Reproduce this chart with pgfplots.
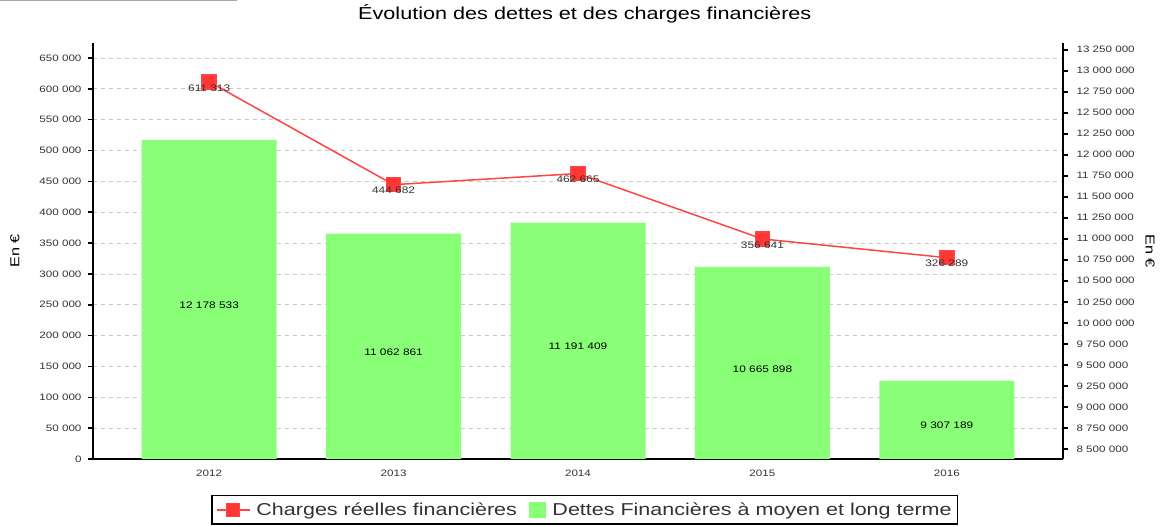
\documentclass[border=0pt]{standalone}
\usepackage{pgfplots}
\pgfplotsset{compat=1.18}
\usepackage{fontspec}
\setmainfont{Liberation Sans}[FakeStretch=1.25]
\definecolor{barg}{HTML}{88FF77}
\definecolor{linr}{HTML}{FF4444}
\definecolor{mrkr}{HTML}{FF3636}
\definecolor{gridc}{HTML}{C8C8C8}
\definecolor{txt}{HTML}{333333}
\pgfplotsset{
  base/.style={
    at={(93pt,68pt)}, anchor=south west,
    width=970pt, height=416pt, scale only axis,
    xmin=-0.63, xmax=4.63,
    /pgf/number format/assume math mode=true,
    scaled y ticks=false,
    tick label style={font=\fontsize{9.3}{11}\selectfont, text=txt},
    tick align=outside, major tick length=5pt,
  },
  numfmt/.style={/pgf/number format/fixed, /pgf/number format/precision=0, /pgf/number format/1000 sep={\ }},
  linelegend/.style={legend image code/.code={\draw[mark repeat=2, mark phase=2, ##1, mark size=6.5pt]
     plot coordinates {(0pt,0pt) (16.5pt,0pt) (33pt,0pt)};}},
  barlegend/.style={legend image code/.code={\fill[barg] (0pt,-7pt) rectangle (16pt,7pt);}},
}
\begin{document}
\begin{tikzpicture}[x=1pt,y=1pt]
\useasboundingbox (0,0) rectangle (1162,527);
\draw[gray!70, line width=1.5pt] (0,527) -- (237,527);

% axis 1: grid, left axis, x labels, title
\begin{axis}[base,
  ymin=0, ymax=674300,
  axis x line*=bottom, axis y line*=left,
  axis line style={-, line width=1.5pt, black},
  ytick={0,50000,...,650000},
  yticklabel style={numfmt, /tikz/xshift=-3pt},
  ymajorgrids, grid style={gridc, dash pattern=on 4pt off 4pt, line width=0.8pt},
  xtick={0,...,4}, xticklabels={2012,2013,2014,2015,2016},
  xticklabel style={yshift=-2pt},
  x tick style={draw=none},
  y tick style={black, line width=1.5pt},
  title={Évolution des dettes et des charges financières},
  title style={at={(0.507,1.055)}, anchor=center, font=\fontsize{17.3}{20}\selectfont, text=black},
  ylabel={En €},
  every axis y label/.style={at={(-0.0804,0.5)}, rotate=90, anchor=center, font=\fontsize{13}{15}\selectfont},
]
\addplot[draw=none] coordinates {(0,0)};
\end{axis}

% axis 2: bars, right axis
\begin{axis}[base,
  ymin=8378600, ymax=13331000,
  hide x axis,
  axis y line*=right,
  axis line style={-, line width=1.5pt, black},
  ytick={8500000,8750000,...,13250000},
  yticklabel style={numfmt, /tikz/xshift=5pt},
  y tick style={black, line width=1.5pt},
  ylabel={En €},
  every axis y label/.style={at={(1.0897,0.5)}, rotate=-90, anchor=center, font=\fontsize{13}{15}\selectfont},
]
\addplot[ybar, bar width=135pt, fill=barg, draw=none] coordinates
  {(0,12178533) (1,11062861) (2,11191409) (3,10665898) (4,9307189)};
\addplot[draw=none, nodes near coords, point meta=explicit symbolic,
  every node near coord/.style={anchor=center, font=\fontsize{9.5}{11}\selectfont, text=black}]
  coordinates {(0,10212000)[12 178 533] (1,9652000)[11 062 861] (2,9724000)[11 191 409]
               (3,9450000)[10 665 898] (4,8783000)[9 307 189]};
\end{axis}

% axis 3: line, legend
\begin{axis}[base,
  ymin=0, ymax=674300,
  hide x axis, hide y axis,
  legend style={at={(0.507,-0.0865)}, anchor=north, draw=black, line width=1.5pt,
    font=\fontsize{17.2}{20}\selectfont, text=txt,
    /tikz/every odd column/.append style={column sep=4pt},
    /tikz/every even column/.append style={column sep=10pt},
    inner xsep=4pt, inner ysep=5pt},
  legend columns=2,
]
\addplot[linr, line width=1.5pt, mark=square*, mark size=7pt,
  mark options={fill=mrkr, draw=none},
  nodes near coords, point meta=explicit symbolic,
  every node near coord/.style={anchor=center, yshift=-6pt, font=\fontsize{9.5}{11}\selectfont, text=txt},
  linelegend]
  coordinates {(0,611313)[611 313] (1,444682)[444 682] (2,462665)[462 665]
               (3,356641)[356 641] (4,326289)[326 289]};
\addlegendentry{Charges réelles financières}
\addlegendimage{barlegend}
\addlegendentry{Dettes Financières à moyen et long terme}
\end{axis}
\end{tikzpicture}
\end{document}
